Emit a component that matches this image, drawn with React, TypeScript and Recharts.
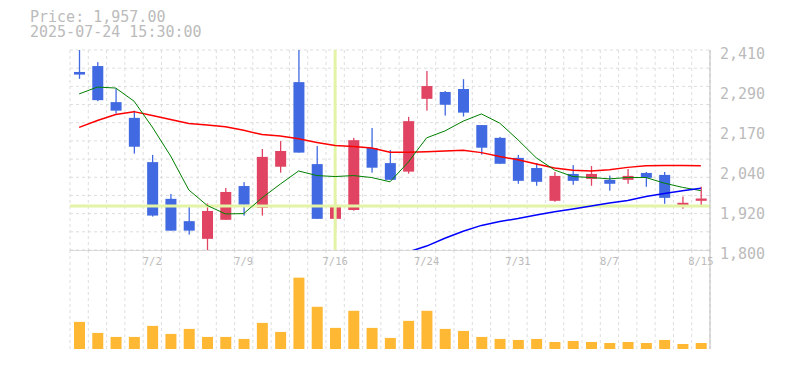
import React from 'react';
import { ComposedChart, Bar, Line, XAxis, YAxis, CartesianGrid, ReferenceLine } from 'recharts';

const dates = ['6/26','6/27','6/30','7/1','7/2','7/3','7/4','7/7','7/8','7/9','7/10','7/11','7/14','7/15','7/16','7/17','7/18','7/22','7/23','7/24','7/25','7/28','7/29','7/30','7/31','8/1','8/4','8/5','8/6','8/7','8/8','8/12','8/13','8/14','8/15'];
const opens  = [2343,2361,2251,2203,2068,1956,1888,1834,1892,1995,1929,2054,2312,2062,1895,1922,2111,2065,2039,2261,2282,2291,2181,2142,2081,2050,1950,2032,2017,2014,2014,2035,2029,1935,1950];
const highs  = [2440,2373,2293,2225,2090,1971,1937,1942,1989,2007,2108,2132,2420,2117,1956,2142,2172,2105,2206,2346,2285,2321,2181,2145,2090,2065,2038,2059,2056,2027,2047,2038,2038,1963,1993];
const lows   = [2322,2254,2216,2094,1902,1859,1847,1800,1892,1905,1905,2036,2097,1895,1859,1920,2036,2014,2033,2225,2210,2207,2091,2063,2002,1996,1947,1999,1996,1981,2002,1993,1941,1926,1935];
const closes = [2335,2257,2225,2115,1905,1859,1859,1919,1977,1938,2084,2102,2097,1895,1934,2135,2051,2014,2193,2300,2243,2219,2112,2063,2011,2008,2026,2011,2032,2002,2026,2020,1959,1944,1957];
const maShort = [2276,2297,2294,2254,2175,2087,1983,1936,1910,1911,1959,2001,2041,2027,2024,2027,2021,2008,2068,2142,2163,2193,2215,2187,2136,2081,2044,2024,2021,2017,2021,2021,2004,1991,1981];
const maMid   = [2174,2195,2213,2222,2210,2198,2186,2181,2176,2165,2152,2148,2139,2128,2119,2116,2111,2098,2098,2100,2102,2104,2097,2085,2075,2062,2050,2043,2041,2045,2052,2057,2058,2058,2057];
const maLong  = [null,null,null,null,null,null,null,null,null,null,null,null,null,null,null,null,null,null,1794,1812,1836,1857,1875,1887,1896,1907,1917,1925,1934,1943,1951,1963,1972,1981,1988];
const volumes = [270000,160000,120000,120000,230000,150000,200000,120000,120000,100000,260000,170000,710000,420000,210000,380000,210000,110000,280000,380000,200000,180000,120000,100000,90000,100000,70000,80000,70000,60000,70000,60000,90000,50000,60000];

const yTickValues = [1800, 1922, 2044, 2166, 2288, 2410];
const yTickLabels = ['1,800', '1,920', '2,040', '2,170', '2,290', '2,410'];
const xTickLabels = ['7/2', '7/9', '7/16', '7/24', '7/31', '8/7', '8/15'];
const crossDate = '7/16';
const crossPrice = 1934;
const headerPrice = 'Price: 1,957.00';
const headerTime = '2025-07-24 15:30:00';

const priceData = dates.map((d, i) => ({
  date: d,
  open: opens[i], high: highs[i], low: lows[i], close: closes[i],
  range: [lows[i], highs[i]],
  ma1: maShort[i], ma2: maMid[i], ma3: maLong[i],
}));
const volData = dates.map((d, i) => ({ date: d, vol: volumes[i] }));

const FONT = '"DejaVu Sans Mono", monospace';
const TXT = '#bbbbbb';
const GRID = '#dddddd';
const BLUE = '#4169e1';
const RED = '#e04462';

const Candle = (props: any) => {
  const { x, y, width, height, payload } = props;
  if (!payload) return null;
  const { open, close, high, low } = payload;
  const ratio = high === low ? 0 : height / (high - low);
  const top = Math.max(open, close);
  const bot = Math.min(open, close);
  const bodyY = y + (high - top) * ratio;
  const bodyH = Math.max(1, (top - bot) * ratio);
  const color = close >= open ? RED : BLUE;
  const cx = x + width / 2;
  return (
    <g>
      <rect x={cx - 0.65} y={y} width={1.3} height={height} fill={color} />
      <rect x={x} y={bodyY} width={width} height={bodyH} fill={color} />
    </g>
  );
};

const vGen = ({ offset }: any) => {
  const n = dates.length;
  const arr: number[] = [];
  for (let k = 0; k <= n; k++) arr.push(offset.left + (k * offset.width) / n);
  return arr;
};
const hGen = ({ offset }: any) => {
  const n = 11;
  const arr: number[] = [];
  for (let k = 0; k <= n; k++) arr.push(offset.top + (k * offset.height) / n);
  return arr;
};

export default function App() {
  return (
    <div style={{ position: 'fixed', left: 0, top: 0, width: 785, height: 370, background: '#fff', fontFamily: FONT, overflow: 'hidden' }}>
      <div style={{ position: 'absolute', left: 30, top: 9.8, fontSize: 15, lineHeight: '15px', height: 15, color: TXT, whiteSpace: 'pre' }}>{headerPrice}</div>
      <div style={{ position: 'absolute', left: 30, top: 25, fontSize: 15, lineHeight: '15px', height: 15, color: TXT, whiteSpace: 'pre' }}>{headerTime}</div>
      <div style={{ position: 'absolute', left: 0, top: 0 }}>
        <ComposedChart width={785} height={270} data={priceData} margin={{ top: 50, right: 0, bottom: 20, left: 70 }}>
          <CartesianGrid stroke={GRID} strokeDasharray="3 3" verticalCoordinatesGenerator={vGen} horizontalCoordinatesGenerator={hGen} />
          <XAxis dataKey="date" type="category" hide />
          <YAxis
            orientation="right"
            width={75}
            domain={[1800, 2410]}
            allowDataOverflow
            ticks={yTickValues}
            tickFormatter={(v: number) => yTickLabels[yTickValues.indexOf(v)]}
            axisLine={{ stroke: TXT }}
            tickLine={false}
            tickSize={0}
            tickMargin={10}
            tick={{ fill: TXT, fontSize: 15, fontFamily: FONT, textAnchor: 'start', dy: 4 }}
            interval={0}
          />
          <ReferenceLine y={crossPrice} stroke="#e3f4a6" strokeWidth={3} />
          <ReferenceLine x={crossDate} stroke="#e3f4a6" strokeWidth={3} />
          <Bar dataKey="range" barSize={11} shape={<Candle />} isAnimationActive={false} />
          <Line dataKey="ma2" stroke="#ff0000" strokeWidth={1.5} dot={false} isAnimationActive={false} />
          <Line dataKey="ma1" stroke="#008000" strokeWidth={1} dot={false} isAnimationActive={false} />
          <Line dataKey="ma3" stroke="#0000ff" strokeWidth={1.5} dot={false} isAnimationActive={false} connectNulls={false} />
        </ComposedChart>
      </div>
      <div style={{ position: 'absolute', left: 0, top: 250 }}>
        <ComposedChart width={785} height={100} data={volData} margin={{ top: 0, right: 0, bottom: 1, left: 70 }}>
          <CartesianGrid stroke={GRID} strokeDasharray="3 3" horizontal={false} verticalCoordinatesGenerator={vGen} />
          <XAxis
            dataKey="date"
            orientation="top"
            mirror
            ticks={xTickLabels}
            interval={0}
            axisLine={{ stroke: TXT }}
            tickLine={false}
            tickSize={0}
            tickMargin={8}
            tick={{ fill: TXT, fontSize: 10.5, fontFamily: FONT }}
          />
          <XAxis xAxisId="bot" dataKey="date" orientation="bottom" height={0} tick={false} tickLine={false} axisLine={{ stroke: TXT }} />
          <YAxis orientation="right" width={75} domain={[0, 985000]} tick={false} tickLine={false} axisLine={{ stroke: TXT }} />
          <Bar dataKey="vol" fill="#ffb833" barSize={11} isAnimationActive={false} />
        </ComposedChart>
      </div>
    </div>
  );
}
